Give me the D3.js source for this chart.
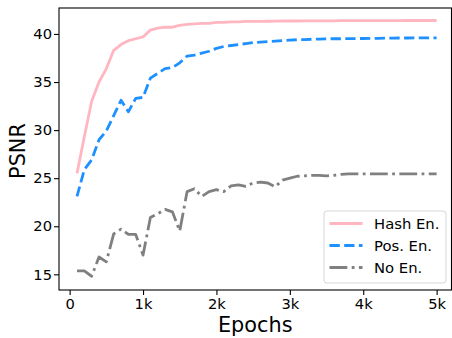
<!DOCTYPE html>
<html>
<head>
<meta charset="utf-8">
<script src="https://cdn.jsdelivr.net/npm/d3@7"></script>
<style>
	body { margin: 0; background: #fff; }
	svg { display: block; font-family: 'DejaVu Sans', sans-serif; }
</style>
</head>
<body>
<svg id="chart"></svg>
<script>
// epochs 100 .. 5000, every 100
const epochs = d3.range( 100, 5001, 100 ) ;

const hashEn = [
	25.5, 29.3, 33.0, 35.0, 36.4, 38.3, 38.9, 39.3, 39.5, 39.7,
	40.4, 40.6, 40.7, 40.7, 40.9, 41.0, 41.05, 41.1, 41.1, 41.2,
	41.2, 41.25, 41.25, 41.3, 41.3, 41.3, 41.32, 41.33, 41.35, 41.35,
	41.35, 41.36, 41.36, 41.37, 41.37, 41.37, 41.38, 41.38, 41.38, 41.38,
	41.38, 41.39, 41.39, 41.39, 41.39, 41.4, 41.4, 41.4, 41.4, 41.4
] ;

const posEn = [
	23.1, 25.9, 26.9, 29.0, 29.9, 31.5, 33.1, 31.9, 33.3, 33.4,
	35.4, 35.9, 36.4, 36.5, 37.0, 37.7, 37.8, 38.0, 38.2, 38.5,
	38.7, 38.8, 38.9, 39.0, 39.1, 39.15, 39.2, 39.25, 39.3, 39.35,
	39.4, 39.42, 39.45, 39.47, 39.5, 39.5, 39.5, 39.52, 39.52, 39.53,
	39.55, 39.55, 39.56, 39.57, 39.58, 39.58, 39.59, 39.6, 39.6, 39.6
] ;

const noEn = [
	15.35, 15.35, 14.8, 16.8, 16.3, 19.2, 19.7, 19.15, 19.15, 17.0,
	20.9, 21.3, 21.75, 21.5, 19.5, 23.6, 23.9, 23.1, 23.6, 23.8,
	23.6, 24.2, 24.3, 24.15, 24.5, 24.6, 24.5, 24.1, 24.8, 25.0,
	25.2, 25.25, 25.3, 25.3, 25.25, 25.3, 25.4, 25.45, 25.45, 25.45,
	25.45, 25.45, 25.45, 25.45, 25.45, 25.45, 25.45, 25.45, 25.45, 25.45
] ;

const seriesNames = [ 'Hash En.', 'Pos. En.', 'No En.' ] ;
const xTicks = [ 0, 1000, 2000, 3000, 4000, 5000 ] ;
const xTickLabels = [ '0', '1k', '2k', '3k', '4k', '5k' ] ;
const yTicks = [ 15, 20, 25, 30, 35, 40 ] ;

const geom = {
	width: 452,
	height: 338,
	margins: { left: 59, right: 0.5, top: 8, bottom: 48 }
} ;

const styles = [
	{ stroke: '#ffb6c1', dash: null },
	{ stroke: '#1e90ff', dash: '10.3,4.4' },
	{ stroke: '#808080', dash: '17.8,4.4,2.8,4.4' }
] ;

const x = d3.scaleLinear()
	.domain( [ -145, 5245 ] )
	.range( [ geom.margins.left, 70 + 5245 * 0.07333 ] ) ;
const y = d3.scaleLinear()
	.domain( [ 13.37, 42.7 ] )
	.range( [ geom.height - geom.margins.bottom, geom.margins.top ] ) ;

const svg = d3.select( '#chart' )
	.attr( 'width', geom.width )
	.attr( 'height', geom.height ) ;

const plotRight = geom.width - geom.margins.right ;
const plotBottom = geom.height - geom.margins.bottom ;

svg.append( 'defs' ).append( 'clipPath' )
	.attr( 'id', 'clip' )
	.append( 'rect' )
	.attr( 'x', geom.margins.left )
	.attr( 'y', geom.margins.top )
	.attr( 'width', plotRight - geom.margins.left )
	.attr( 'height', plotBottom - geom.margins.top ) ;

// axes
const xAxis = svg.append( 'g' )
	.attr( 'transform', 'translate(0 ' + plotBottom + ')' )
	.call( d3.axisBottom( x ).tickValues( xTicks )
		.tickFormat( ( d, i ) => xTickLabels[i] )
		.tickSize( 5 ).tickPadding( 4 ) ) ;
xAxis.select( '.domain' ).remove() ;

const yAxis = svg.append( 'g' )
	.attr( 'transform', 'translate(' + geom.margins.left + ' 0)' )
	.call( d3.axisLeft( y ).tickValues( yTicks ).tickSize( 5 ).tickPadding( 2 ) ) ;
yAxis.select( '.domain' ).remove() ;

svg.selectAll( '.tick text' )
	.attr( 'font-family', 'DejaVu Sans, sans-serif' )
	.attr( 'font-size', '14.7px' )
	.attr( 'fill', '#000' ) ;
svg.selectAll( '.tick line' )
	.attr( 'stroke', '#000' )
	.attr( 'stroke-width', 1.1 ) ;

// lines
const line = d3.line()
	.x( ( d, i ) => x( epochs[i] ) )
	.y( d => y( d ) ) ;

const allSeries = [ hashEn, posEn, noEn ] ;

svg.append( 'g' )
	.attr( 'clip-path', 'url(#clip)' )
	.selectAll( 'path.series' )
	.data( allSeries )
	.enter()
	.append( 'path' )
	.attr( 'class', 'series' )
	.attr( 'd', d => line( d ) )
	.attr( 'fill', 'none' )
	.attr( 'stroke', ( d, i ) => styles[i].stroke )
	.attr( 'stroke-width', 2.8 )
	.attr( 'stroke-dasharray', ( d, i ) => styles[i].dash )
	.attr( 'stroke-linejoin', 'round' ) ;

// frame
svg.append( 'rect' )
	.attr( 'x', geom.margins.left )
	.attr( 'y', geom.margins.top )
	.attr( 'width', plotRight - geom.margins.left )
	.attr( 'height', plotBottom - geom.margins.top )
	.attr( 'fill', 'none' )
	.attr( 'stroke', '#000' )
	.attr( 'stroke-width', 1.1 ) ;

// legend
const legend = svg.append( 'g' )
	.attr( 'transform', 'translate(324 211)' ) ;
legend.append( 'rect' )
	.attr( 'width', 122 )
	.attr( 'height', 72 )
	.attr( 'rx', 3 )
	.attr( 'fill', 'rgba(255,255,255,0.8)' )
	.attr( 'stroke', '#d6d6d6' )
	.attr( 'stroke-width', 1 ) ;

const rows = legend.selectAll( 'g.row' )
	.data( seriesNames )
	.enter()
	.append( 'g' )
	.attr( 'class', 'row' )
	.attr( 'transform', ( d, i ) => 'translate(0 ' + ( 12.5 + i * 22 ) + ')' ) ;
rows.append( 'line' )
	.attr( 'x1', 5.5 )
	.attr( 'x2', 38.5 )
	.attr( 'stroke', ( d, i ) => styles[i].stroke )
	.attr( 'stroke-width', 2.8 )
	.attr( 'stroke-dasharray', ( d, i ) => styles[i].dash ) ;
rows.append( 'text' )
	.attr( 'x', 50 )
	.attr( 'dy', '0.36em' )
	.attr( 'font-size', '14.8px' )
	.text( d => d ) ;

// axis titles
svg.append( 'text' )
	.attr( 'x', ( geom.margins.left + plotRight ) / 2 )
	.attr( 'y', 331.7 )
	.attr( 'text-anchor', 'middle' )
	.attr( 'font-size', '20.8px' )
	.text( 'Epochs' ) ;
svg.append( 'text' )
	.attr( 'transform', 'translate(25 151) rotate(-90)' )
	.attr( 'text-anchor', 'middle' )
	.attr( 'font-size', '20.8px' )
	.text( 'PSNR' ) ;
</script>
</body>
</html>
